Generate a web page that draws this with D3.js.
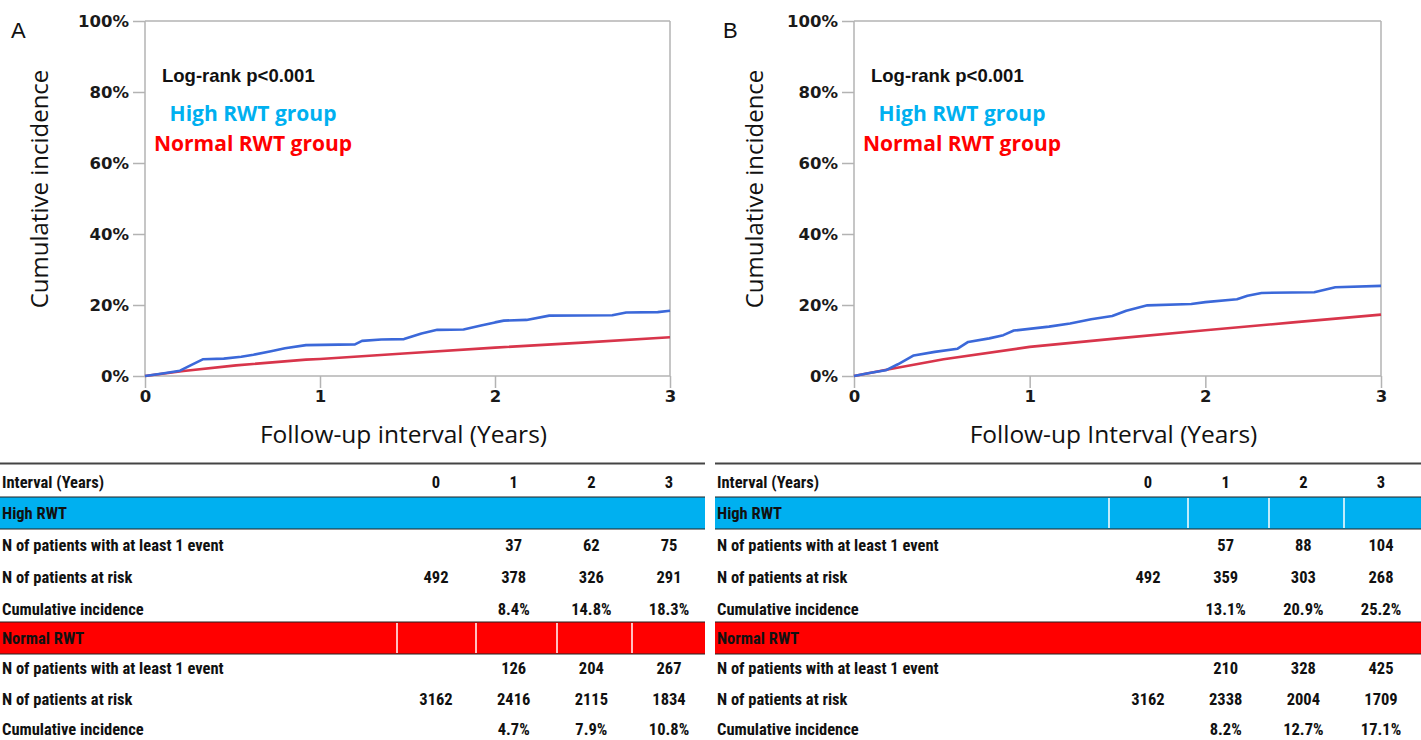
<!DOCTYPE html>
<html><head><meta charset="utf-8">
<script src="https://cdn.jsdelivr.net/npm/d3@7"></script>
<style>
html,body{margin:0;padding:0;background:#fff;}
svg{display:block;}
</style></head>
<body>
<svg id="c" width="1421" height="740"></svg>
<script>
// ---------- DATA ----------
const yTicks = [0, 20, 40, 60, 80, 100];
const xTicks = [0, 1, 2, 3];
const intervals = [0, 1, 2, 3];

// Panel A curves: [years, cumulative incidence %]
const aHigh = [[0,0],[0.1,0.7],[0.2,1.5],[0.26,3.0],[0.33,4.7],[0.45,4.9],[0.55,5.4],[0.62,6.0],[0.72,7.0],[0.80,7.8],[0.92,8.7],[1.20,8.9],[1.24,9.9],[1.35,10.3],[1.48,10.4],[1.58,12.0],[1.67,13.0],[1.82,13.1],[1.92,14.2],[2.0,15.1],[2.05,15.6],[2.18,15.8],[2.31,17.0],[2.67,17.1],[2.75,17.9],[2.93,18.0],[3.0,18.4]];
const aNormal = [[0,0],[0.22,1.4],[0.52,3.0],[0.92,4.6],[1.0,4.8],[1.5,6.4],[2.0,8.0],[2.5,9.4],[3.0,10.9]];
// Panel B curves
const bHigh = [[0,0],[0.08,0.8],[0.18,1.6],[0.25,3.3],[0.34,5.8],[0.46,6.8],[0.59,7.7],[0.65,9.6],[0.77,10.6],[0.85,11.5],[0.91,12.8],[1.11,13.9],[1.23,14.8],[1.35,16.0],[1.47,16.9],[1.55,18.4],[1.67,19.9],[1.92,20.3],[2.0,20.8],[2.18,21.6],[2.24,22.6],[2.32,23.4],[2.62,23.6],[2.74,25.0],[3.0,25.4]];
const bNormal = [[0,0],[0.2,1.9],[0.51,4.7],[1.0,8.2],[1.5,10.6],[2.0,12.9],[2.5,15.1],[3.0,17.3]];

// Table values
const aHighEvents = [null, 37, 62, 75];
const aHighRisk = [492, 378, 326, 291];
const aHighCI = [null, 8.4, 14.8, 18.3];
const aNormalEvents = [null, 126, 204, 267];
const aNormalRisk = [3162, 2416, 2115, 1834];
const aNormalCI = [null, 4.7, 7.9, 10.8];

const bHighEvents = [null, 57, 88, 104];
const bHighRisk = [492, 359, 303, 268];
const bHighCI = [null, 13.1, 20.9, 25.2];
const bNormalEvents = [null, 210, 328, 425];
const bNormalRisk = [3162, 2338, 2004, 1709];
const bNormalCI = [null, 8.2, 12.7, 17.1];

// ---------- DRAW ----------
const svg = d3.select("#c");
svg.append("rect").attr("width",1421).attr("height",740).attr("fill","#fff");

const BLUE = "#3b68d9", RED = "#d8354b";
const GRAY = "#b3b3b3";

function drawPanel(cfg) {
  const x = d3.scaleLinear().domain([0,3]).range([cfg.x0, cfg.x1]);
  const y = d3.scaleLinear().domain([0,100]).range([376, 21]);
  const g = svg.append("g");

  g.append("line").attr("x1",cfg.x0).attr("x2",cfg.x1).attr("y1",21).attr("y2",21).attr("stroke",GRAY).attr("stroke-width",1.5);
  g.append("line").attr("x1",cfg.x1).attr("x2",cfg.x1).attr("y1",21).attr("y2",376).attr("stroke",GRAY).attr("stroke-width",1.5);

  const yAxis = g.append("g").attr("transform",`translate(${cfg.x0},0)`)
    .call(d3.axisLeft(y).tickValues(yTicks).tickFormat(d=>d+"%").tickSize(12).tickPadding(4));
  const xAxis = g.append("g").attr("transform",`translate(0,376)`)
    .call(d3.axisBottom(x).tickValues(xTicks).tickFormat(d3.format("d")).tickSize(12).tickPadding(2));
  [yAxis,xAxis].forEach(a=>{
    a.selectAll("path,line").attr("stroke",GRAY).attr("stroke-width",1.5);
    a.selectAll("text").attr("fill","#1a1a1a").style("font-family","DejaVu Sans, Verdana, sans-serif")
     .style("font-weight","bold").style("font-size","16.5px");
  });
  xAxis.select(".domain").attr("d",`M${cfg.x0},0H${cfg.x1}`);
  yAxis.select(".domain").attr("d",`M0,${y(0)}V${y(100)}`);

  const line = d3.line().x(d=>x(d[0])).y(d=>y(d[1]));
  g.append("path").datum(cfg.normal).attr("d",line).attr("fill","none").attr("stroke",RED).attr("stroke-width",2.6).attr("stroke-linejoin","round");
  g.append("path").datum(cfg.high).attr("d",line).attr("fill","none").attr("stroke",BLUE).attr("stroke-width",2.6).attr("stroke-linejoin","round");

  g.append("text").attr("x",cfg.letterX).attr("y",38).text(cfg.letter)
    .style("font-family","Liberation Sans, Arial, sans-serif").style("font-size","22px").attr("fill","#111");

  g.append("text").attr("transform",`translate(${cfg.yTitleX},189) rotate(-90)`).attr("text-anchor","middle")
    .text("Cumulative incidence").style("font-family","Open Sans, Liberation Sans, sans-serif").style("font-size","24px").attr("fill","#111");
  g.append("text").attr("x",(cfg.x0+cfg.x1)/2 - 4).attr("y",443).attr("text-anchor","middle")
    .text(cfg.xTitle).style("font-family","Open Sans, Liberation Sans, sans-serif").style("font-size","24.5px").attr("fill","#111");

  g.append("text").attr("x",cfg.x0+17).attr("y",82).text("Log-rank p<0.001")
    .style("font-family","Liberation Sans, Arial, sans-serif").style("font-weight","bold").style("font-size","18.5px").attr("fill","#111");
  g.append("text").attr("x",cfg.x0+108).attr("y",121).attr("text-anchor","middle").text("High RWT group")
    .style("font-family","Open Sans, Liberation Sans, sans-serif").style("font-weight","bold").style("font-size","21px").attr("fill","#00b0f0");
  g.append("text").attr("x",cfg.x0+108).attr("y",151).attr("text-anchor","middle").text("Normal RWT group")
    .style("font-family","Open Sans, Liberation Sans, sans-serif").style("font-weight","bold").style("font-size","21px").attr("fill","#ff0000");
}

drawPanel({x0:145, x1:670, high:aHigh, normal:aNormal, letter:"A", letterX:11, yTitleX:48, xTitle:"Follow-up interval (Years)"});
drawPanel({x0:854, x1:1381, high:bHigh, normal:bNormal, letter:"B", letterX:723, yTitleX:763, xTitle:"Follow-up Interval (Years)"});

// ---------- TABLES ----------
const TF = "Liberation Sans Narrow, Roboto Condensed, Liberation Sans, Arial, sans-serif";
const TS = "16.5px";
function drawTable(cfg) {
  const g = svg.append("g");
  const col = d3.scalePoint().domain(intervals).range([cfg.c0, cfg.c3]);
  const fmtPct = v => v==null ? "" : v.toFixed(1)+"%";
  const fmtN = v => v==null ? "" : String(v);

  g.append("line").attr("x1",cfg.left).attr("x2",cfg.right).attr("y1",463.5).attr("y2",463.5).attr("stroke","#444").attr("stroke-width",2);

  function band(y0, color, label, seps) {
    g.append("rect").attr("x",cfg.left).attr("y",y0).attr("width",cfg.right-cfg.left).attr("height",32).attr("fill",color);
    g.append("line").attr("x1",cfg.left).attr("x2",cfg.right).attr("y1",y0).attr("y2",y0).attr("stroke","#222").attr("stroke-width",1.2);
    g.append("line").attr("x1",cfg.left).attr("x2",cfg.right).attr("y1",y0+32).attr("y2",y0+32).attr("stroke","#222").attr("stroke-width",1.2);
    if (seps) cfg.seps.forEach(s=>g.append("line").attr("x1",s).attr("x2",s).attr("y1",y0+1).attr("y2",y0+31).attr("stroke","#fff").attr("stroke-width",1.5));
    g.append("text").attr("x",cfg.left+2).attr("y",y0+22).text(label)
      .style("font-family",TF).style("font-weight","bold").style("font-size",TS).attr("fill","#111");
  }

  function row(yb, label, vals, fmt) {
    g.append("text").attr("x",cfg.left+2).attr("y",yb).text(label)
      .style("font-family",TF).style("font-weight","bold").style("font-size",TS).attr("fill","#111");
    g.selectAll(null).data(intervals).enter().append("text")
      .attr("x",d=>col(d)).attr("y",yb).attr("text-anchor","middle")
      .text((d,i)=>fmt(vals[i]))
      .style("font-family",TF).style("font-weight","bold").style("font-size",TS).attr("fill","#111");
  }

  row(488, "Interval (Years)", intervals, v=>String(v));
  band(497, "#00b0f0", "High RWT", cfg.sepBand==="high");
  row(551, "N of patients with at least 1 event", cfg.hE, fmtN);
  row(583, "N of patients at risk", cfg.hR, fmtN);
  row(615, "Cumulative incidence", cfg.hC, fmtPct);
  band(622, "#ff0000", "Normal RWT", cfg.sepBand==="normal");
  row(674, "N of patients with at least 1 event", cfg.nE, fmtN);
  row(705, "N of patients at risk", cfg.nR, fmtN);
  row(735, "Cumulative incidence", cfg.nC, fmtPct);
}

drawTable({left:0, right:705, c0:436, c3:669, seps:[397,476,557,632], sepBand:"normal",
  hE:aHighEvents, hR:aHighRisk, hC:aHighCI, nE:aNormalEvents, nR:aNormalRisk, nC:aNormalCI});
drawTable({left:715, right:1421, c0:1148, c3:1381, seps:[1109,1188,1269,1344], sepBand:"high",
  hE:bHighEvents, hR:bHighRisk, hC:bHighCI, nE:bNormalEvents, nR:bNormalRisk, nC:bNormalCI});
</script>
</body></html>
